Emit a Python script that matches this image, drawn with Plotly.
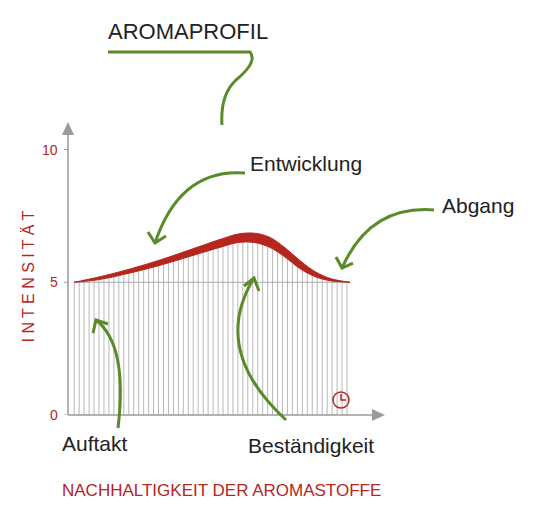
import numpy as np
import plotly.graph_objects as go

# data
curve_x = [2, 10, 20, 30, 40, 50, 55, 60, 65, 70, 75, 80, 85, 91]
top_y = [5.0, 5.2, 5.5, 5.85, 6.25, 6.65, 6.82, 6.85, 6.7, 6.3, 5.8, 5.38, 5.13, 5.0]
low_y = [5.0, 5.1, 5.35, 5.65, 6.0, 6.35, 6.5, 6.5, 6.32, 5.95, 5.5, 5.2, 5.05, 5.0]
tick_vals = [0, 5, 10]
tick_text = ["0", "5", "10"]

RED = "#b5261e"
GREEN = "#5b8a2b"
GRAY = "#9a9a9a"
FONT = "Liberation Sans Narrow, Liberation Sans, sans-serif"

def X(px): return (px - 68) / 310
def Y(py): return (415 - py) / 292
def path(pts):
    s = ""
    for cmd, *xy in pts:
        s += cmd
        s += " ".join(f"{X(xy[i]):.4f},{Y(xy[i+1]):.4f}" for i in range(0, len(xy), 2)) + " "
    return s

fig = go.Figure()

vx = np.arange(2, 91.5, 1.6)
vh = np.interp(vx, curve_x, low_y)
lx, ly = [], []
for a, h in zip(vx, vh):
    lx += [a, a, None]; ly += [0, h, None]
fig.add_trace(go.Scatter(x=lx, y=ly, mode="lines", line=dict(color="#b8b8b8", width=1), hoverinfo="skip"))
fig.add_trace(go.Scatter(x=[2, 91], y=[5, 5], mode="lines", line=dict(color="#aaaaaa", width=1), hoverinfo="skip"))
fig.add_trace(go.Scatter(x=curve_x, y=low_y, mode="lines", line=dict(color=RED, width=1, shape="spline"), hoverinfo="skip"))
fig.add_trace(go.Scatter(x=curve_x, y=top_y, mode="lines", line=dict(color=RED, width=1, shape="spline"),
                         fill="tonexty", fillcolor=RED, hoverinfo="skip"))

P = dict(xref="paper", yref="paper")
shapes = []
shapes.append(dict(type="line", x0=0, x1=0, y0=0, y1=Y(135), line=dict(color=GRAY, width=1.5), **P))
shapes.append(dict(type="line", x0=0, x1=X(372), y0=0, y1=0, line=dict(color=GRAY, width=1.5), **P))
shapes.append(dict(type="path", path=path([("M", 62, 135), ("L", 74, 135), ("L", 68, 122)]) + "Z", fillcolor=GRAY, line=dict(width=0), **P))
shapes.append(dict(type="path", path=path([("M", 372, 409), ("L", 372, 421), ("L", 385, 415)]) + "Z", fillcolor=GRAY, line=dict(width=0), **P))
for t in tick_vals:
    shapes.append(dict(type="line", x0=X(64), x1=0, y0=t, y1=t, xref="paper", yref="y", line=dict(color=GRAY, width=1)))

g = dict(color=GREEN, width=3)
curves = [
    [("M", 108, 52), ("L", 250, 52), ("Q", 258, 62, 236, 80), ("Q", 220, 95, 222, 125)],
    [("M", 245, 173), ("Q", 180, 168, 155, 243)],
    [("M", 148, 232), ("L", 155, 243), ("L", 166, 236)],
    [("M", 434, 210), ("Q", 370, 205, 342, 268)],
    [("M", 336, 257), ("L", 342, 268), ("L", 353, 263)],
    [("M", 118, 428), ("Q", 128, 345, 96, 320)],
    [("M", 93, 333), ("L", 96, 320), ("L", 108, 324)],
    [("M", 286, 420), ("Q", 210, 350, 254, 278)],
    [("M", 244, 286), ("L", 254, 278), ("L", 259, 291)],
]
for c in curves:
    shapes.append(dict(type="path", path=path(c), line=g, layer="above", **P))
shapes.append(dict(type="circle", x0=X(333), x1=X(349), y0=Y(408), y1=Y(392), line=dict(color=RED, width=1.5), **P))
shapes.append(dict(type="path", path=path([("M", 341, 394), ("L", 341, 400), ("L", 346, 400)]), line=dict(color=RED, width=1.5), **P))

ann = []
def txt(t, px, py, size, color="#222", xanchor="left"):
    ann.append(dict(text=t, x=X(px), y=Y(py), xanchor=xanchor, yanchor="middle", showarrow=False,
                    font=dict(family=FONT, size=size, color=color), **P))
txt("AROMAPROFIL", 106, 31, 22)
txt("Entwicklung", 248, 163, 21)
txt("Abgang", 440, 205, 21)
txt("Auftakt", 60, 443, 21)
txt("Beständigkeit", 246, 445, 21)
txt("NACHHALTIGKEIT DER AROMASTOFFE", 60, 490, 17, RED)
ann.append(dict(text="I N T E N S I T Ä T", x=X(17), y=Y(345), textangle=-90, showarrow=False,
                font=dict(family=FONT, size=16, color=RED), **P))
for v, t in zip(tick_vals, tick_text):
    ann.append(dict(text=t, x=X(60), y=v, xref="paper", yref="y", xanchor="right", showarrow=False,
                    font=dict(family=FONT, size=14, color=RED)))

fig.update_layout(
    width=544, height=518, showlegend=False,
    paper_bgcolor="white", plot_bgcolor="white",
    margin=dict(l=60, r=174, t=115, b=111),
    xaxis=dict(range=[0, 100], visible=False),
    yaxis=dict(range=[0, 11], visible=False),
    shapes=shapes, annotations=ann,
)
fig.write_html("out.html")
